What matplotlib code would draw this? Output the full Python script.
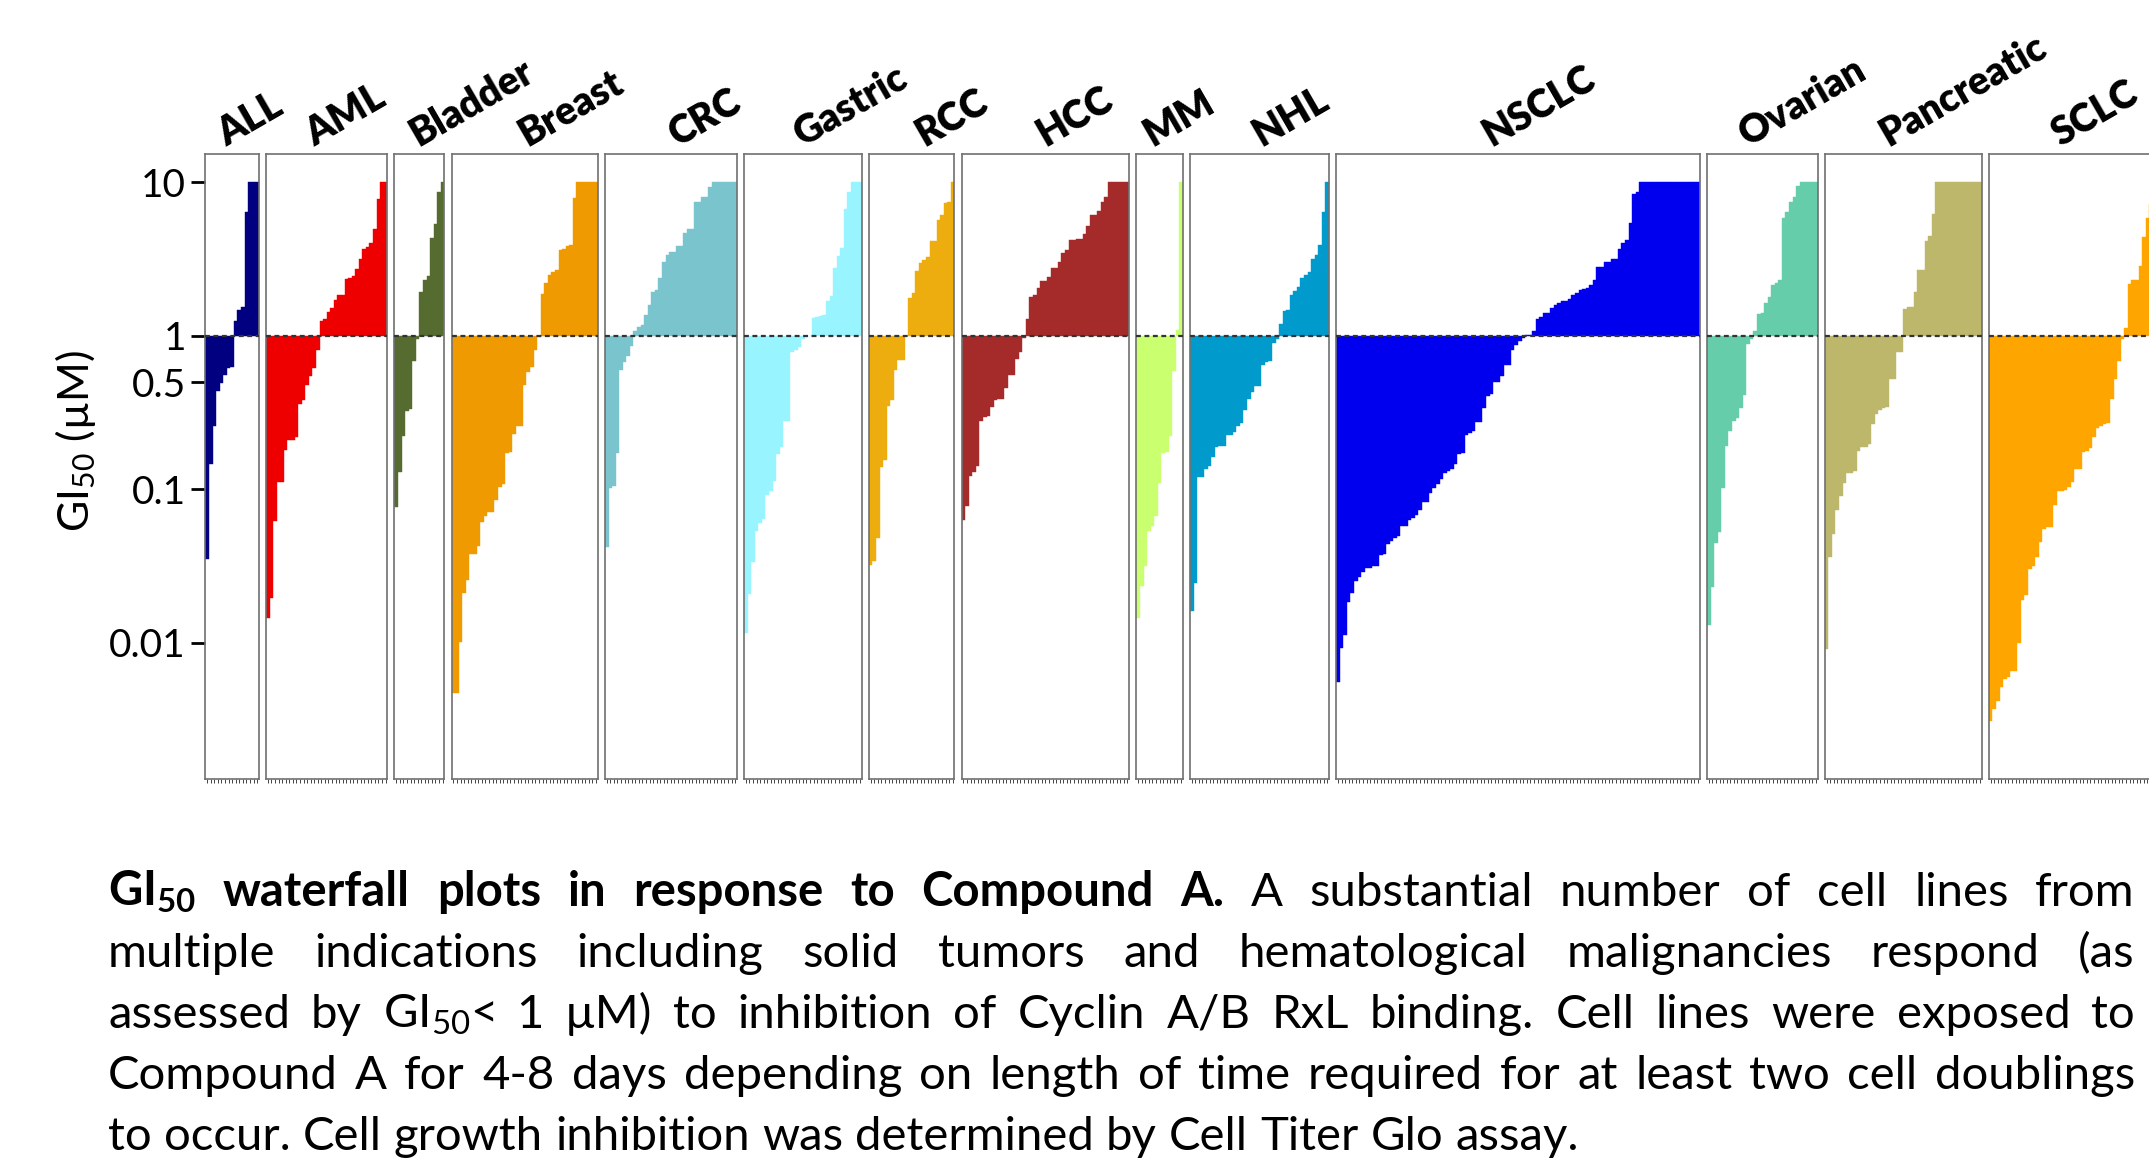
import numpy as np
import matplotlib.pyplot as plt
from matplotlib.ticker import FixedLocator, FixedFormatter, NullLocator

plt.rcParams['font.family'] = ['Lato', 'DejaVu Sans']
plt.rcParams['mathtext.fontset'] = 'custom'
plt.rcParams['mathtext.rm'] = 'Lato'
plt.rcParams['mathtext.bf'] = 'Lato:bold'
plt.rcParams['mathtext.it'] = 'Lato:italic'

# GI50 values (uM), sorted per indication
ALL = [0.035, 0.146, 0.257, 0.44, 0.49, 0.56, 0.62, 0.63, 1.25, 1.47, 1.54, 6.4, 10, 10, 10]
AML = [0.0145, 0.0197, 0.062, 0.111, 0.111, 0.18, 0.21, 0.21, 0.22, 0.36, 0.38, 0.48, 0.55,
       0.62, 0.81, 1.25, 1.28, 1.43, 1.51, 1.71, 1.86, 1.86, 2.35, 2.39, 2.45, 2.73, 3.19,
       3.67, 3.80, 4.04, 4.96, 7.8, 10, 10]
Bladder = [0.077, 0.129, 0.224, 0.325, 0.336, 0.69, 0.96, 1.93, 2.31, 2.45, 4.34, 5.35, 8.65, 10]
Breast = [0.0047, 0.0047, 0.0101, 0.021, 0.0258, 0.038, 0.038, 0.043, 0.061, 0.067, 0.0715,
          0.0715, 0.085, 0.104, 0.109, 0.172, 0.175, 0.231, 0.257, 0.26, 0.48, 0.58, 0.63,
          0.81, 0.98, 1.87, 2.22, 2.51, 2.6, 2.7, 3.62, 3.67, 3.86, 3.9, 7.9,
          10, 10, 10, 10, 10, 10]
CRC = [0.042, 0.102, 0.106, 0.173, 0.60, 0.68, 0.74, 0.86, 1.07, 1.14, 1.17, 1.37, 1.58,
       1.93, 1.99, 2.38, 3.01, 3.34, 3.51, 3.51, 3.83, 3.83, 4.65, 5.0, 5.0, 7.4, 7.4, 8.07,
       8.07, 9.3, 10, 10, 10, 10, 10, 10, 10]
Gastric = [0.0116, 0.0208, 0.0337, 0.0535, 0.06, 0.064, 0.092, 0.098, 0.113, 0.171, 0.188,
           0.28, 0.28, 0.78, 0.81, 0.85, 0.95, 0.99, 1.0, 1.30, 1.33, 1.35, 1.36, 1.68, 1.83,
           2.77, 3.29, 3.71, 6.7, 8.6, 10, 10, 10]
RCC = [0.032, 0.034, 0.048, 0.139, 0.156, 0.35, 0.38, 0.6, 0.70, 0.70, 1.0, 1.77, 1.89,
       2.65, 2.99, 3.1, 3.27, 4.17, 4.17, 5.65, 6.1, 7.3, 7.4, 10]
HCC = [0.063, 0.0785, 0.123, 0.129, 0.143, 0.28, 0.295, 0.30, 0.343, 0.38, 0.386, 0.39,
       0.46, 0.56, 0.56, 0.71, 0.78, 0.97, 1.28, 1.8, 1.84, 2.04, 2.27, 2.27, 2.42, 2.77,
       2.77, 3.02, 3.48, 3.62, 4.2, 4.2, 4.25, 4.25, 4.58, 5.2, 6.1, 6.1, 6.5, 7.5, 8.0,
       10, 10, 10, 10, 10, 10]
MM = [0.0145, 0.0235, 0.0317, 0.0535, 0.058, 0.067, 0.110, 0.172, 0.176, 0.223, 0.59, 1.09, 10]
NHL = [0.0162, 0.0244, 0.12, 0.12, 0.135, 0.143, 0.162, 0.188, 0.192, 0.193, 0.227, 0.227,
       0.238, 0.257, 0.272, 0.33, 0.386, 0.43, 0.47, 0.47, 0.645, 0.68, 0.69, 0.90, 0.955,
       1.2, 1.46, 1.48, 1.84, 1.97, 2.09, 2.4, 2.49, 2.6, 3.19, 3.36, 3.9, 6.4, 10]
NSCLC = [0.0056, 0.0093, 0.0113, 0.0185, 0.021, 0.0252, 0.027, 0.029, 0.031, 0.031, 0.0317,
         0.0317, 0.0374, 0.0378, 0.0439, 0.046, 0.048, 0.05, 0.058, 0.058, 0.063, 0.065,
         0.068, 0.073, 0.083, 0.083, 0.095, 0.102, 0.108, 0.117, 0.128, 0.131, 0.136, 0.147,
         0.171, 0.172, 0.227, 0.232, 0.24, 0.273, 0.273, 0.341, 0.406, 0.42, 0.50, 0.50,
         0.55, 0.645, 0.645, 0.81, 0.87, 0.93, 0.975,
         1.01, 1.02, 1.07, 1.28, 1.33, 1.42, 1.42, 1.51, 1.6, 1.64, 1.68, 1.68, 1.75, 1.84,
         1.89, 1.99, 2.03, 2.05, 2.14, 2.31, 2.82, 2.82, 3.01, 3.04, 3.15, 3.19, 3.69, 4.0,
         4.2, 5.4, 8.4, 8.7,
         10, 10, 10, 10, 10, 10, 10, 10, 10, 10, 10, 10, 10, 10, 10, 10, 10]
Ovarian = [0.0131, 0.0232, 0.0445, 0.0527, 0.102, 0.193, 0.24, 0.28, 0.29, 0.338, 0.41, 0.88,
           0.95, 1.07, 1.38, 1.42, 1.63, 1.8, 2.16, 2.2, 2.31, 5.9, 6.4, 7.5, 8.07, 9.46,
           10, 10, 10, 10, 10]
Pancreatic = [0.0091, 0.0365, 0.051, 0.073, 0.091, 0.11, 0.127, 0.128, 0.132, 0.177, 0.188,
              0.19, 0.198, 0.267, 0.31, 0.33, 0.34, 0.345, 0.52, 0.52, 0.78, 0.78, 1.49,
              1.55, 1.55, 1.92, 2.68, 2.68, 4.17, 4.5, 6.2,
              10, 10, 10, 10, 10, 10, 10, 10, 10, 10, 10, 10, 10]
SCLC = [0.0031, 0.0037, 0.0042, 0.0052, 0.0058, 0.006, 0.0066, 0.0066, 0.01, 0.019, 0.0206,
        0.0305, 0.0317, 0.0363, 0.0454, 0.055, 0.057, 0.057, 0.0797, 0.097, 0.097, 0.099,
        0.104, 0.111, 0.135, 0.135, 0.175, 0.179, 0.186, 0.219, 0.25, 0.26, 0.267, 0.27,
        0.386, 0.52, 0.69, 0.95, 1.13, 2.19, 2.31, 2.31, 2.86, 4.38, 5.9, 7.2, 8.6,
        10, 10, 10, 10, 10, 10]

indications = ["ALL", "AML", "Bladder", "Breast", "CRC", "Gastric", "RCC", "HCC", "MM",
               "NHL", "NSCLC", "Ovarian", "Pancreatic", "SCLC"]
series = [ALL, AML, Bladder, Breast, CRC, Gastric, RCC, HCC, MM, NHL, NSCLC, Ovarian,
          Pancreatic, SCLC]
colors = ["#000080", "#EE0000", "#556B2F", "#EE9A00", "#7AC5CD", "#98F5FF", "#EEAD0E",
          "#A52A2A", "#CAFF70", "#009ACD", "#0000EE", "#66CDAA", "#BDB76B", "#FFA500"]

y_ticks = [0.01, 0.1, 0.5, 1, 10]
y_tick_labels = ["0.01", "0.1", "0.5", "1", "10"]

caption = [
    ["*GI$_{\\mathbf{50}}$", "*waterfall", "*plots", "*in", "*response", "*to", "*Compound",
     "*A.", "A", "substantial", "number", "of", "cell", "lines", "from"],
    "multiple indications including solid tumors and hematological malignancies respond (as".split(),
    ["assessed", "by", "GI$_{50}$<", "1", "\u00b5M)", "to", "inhibition", "of", "Cyclin",
     "A/B", "RxL", "binding.", "Cell", "lines", "were", "exposed", "to"],
    "Compound A for 4-8 days depending on length of time required for at least two cell doublings".split(),
    "to occur. Cell growth inhibition was determined by Cell Titer Glo assay.".split(),
]

W, H = 2149, 1165
fig = plt.figure(figsize=(W / 100, H / 100), dpi=100)

bar_px = 3.565
gap_px = 7.2
x_px = 205.4
top_px, bot_px = 154, 779
label_dx = [-6, -12, -1, 3, 7, 0, 13, 0, -7, 2, -27, -14, -15, -23]

for i, (name, vals, col) in enumerate(zip(indications, series, colors)):
    n = len(vals)
    w = n * bar_px
    ax = fig.add_axes([x_px / W, 1 - bot_px / H, w / W, (bot_px - top_px) / H])
    ax.set_yscale('log')
    v = np.array(vals)
    ax.bar(np.arange(n), v - 1, bottom=1, width=1.0, color=col,
           edgecolor=col, linewidth=0.3, zorder=2)
    ax.axhline(1, color='#333333', lw=1.6, ls=(0, (2.2, 1.6)), zorder=3)
    ax.set_xlim(-0.5, n - 0.5)
    ax.set_ylim(0.0013, 15.3)
    for s in ax.spines.values():
        s.set_color('#707070')
        s.set_linewidth(1.2)
    ax.set_xticks(np.arange(n))
    ax.set_xticklabels([])
    ax.tick_params(axis='x', length=3, width=0.7, color='#444444', direction='out')
    ax.yaxis.set_minor_locator(NullLocator())
    if i == 0:
        ax.yaxis.set_major_locator(FixedLocator(y_ticks))
        ax.yaxis.set_major_formatter(FixedFormatter(y_tick_labels))
        ax.tick_params(axis='y', length=10, width=2, pad=4, labelsize=28, color='black')
    else:
        ax.tick_params(axis='y', left=False, labelleft=False)
    fig.text((x_px + w / 2 + label_dx[i]) / W, 1 - 147 / H, name, rotation=30,
             rotation_mode='anchor', ha='left', va='baseline', fontsize=28,
             fontweight='heavy')
    x_px += w + gap_px

fig.text(75 / W, 1 - 441 / H, "GI$_{50}$ (\u00b5M)", rotation=90, ha='center',
         va='center', fontsize=31)

# justified caption
renderer = fig.canvas.get_renderer()
left, right = 108, 2135
avail = right - left
baselines = [906, 967, 1028, 1089, 1150]


def measure(words, fs):
    out = []
    for wd in words:
        bold = wd.startswith('*')
        t = fig.text(0, 0, wd.lstrip('*'), fontsize=fs,
                     fontweight='bold' if bold else 'normal')
        out.append(t.get_window_extent(renderer).width)
        t.remove()
    return out


fs = 34
t1 = fig.text(0, 0, "x x", fontsize=fs)
t2 = fig.text(0, 0, "xx", fontsize=fs)
space = t1.get_window_extent(renderer).width - t2.get_window_extent(renderer).width
t1.remove()
t2.remove()
natural = max(sum(measure(ln, fs)) + space * (len(ln) - 1) for ln in caption[:4])
if natural > avail:
    space *= avail / natural
    fs *= avail / natural

for k, ln in enumerate(caption):
    widths = measure(ln, fs)
    if k < len(caption) - 1:
        gap = (avail - sum(widths)) / (len(ln) - 1)
    else:
        gap = space
    xx = left
    for wd, wdt in zip(ln, widths):
        bold = wd.startswith('*')
        fig.text(xx / W, 1 - baselines[k] / H, wd.lstrip('*'), fontsize=fs,
                 fontweight='bold' if bold else 'normal', ha='left', va='baseline')
        xx += wdt + gap

fig.savefig("out.png", dpi=100)
